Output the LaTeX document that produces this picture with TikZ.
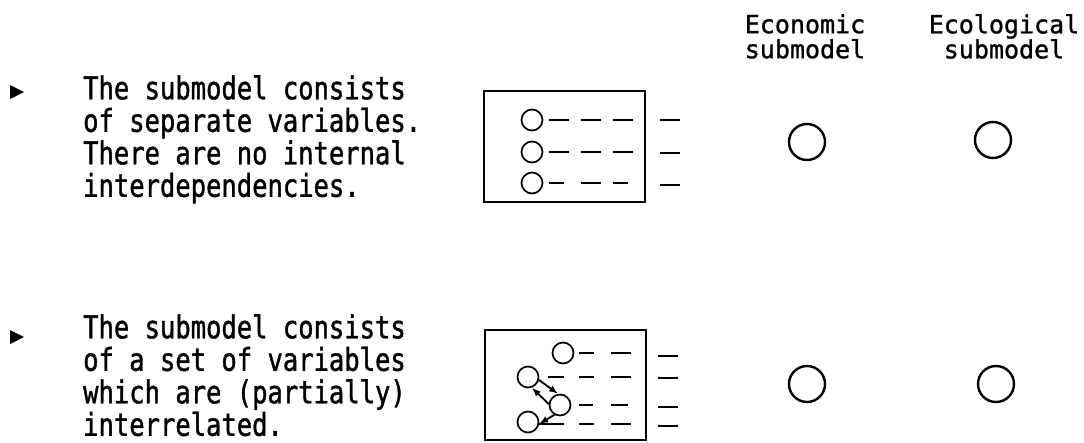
\documentclass[tikz,border=0pt]{standalone}
\usepackage{fontspec}
\newfontfamily\typefont[FakeStretch=0.81,FakeBold=1.2]{DejaVu Sans Mono}
\newfontfamily\headfont[FakeBold=1.2]{DejaVu Sans Mono}
\usetikzlibrary{arrows.meta}

\begin{document}
\begin{tikzpicture}[x=1pt,y=-1pt]
  \tikzset{
    desc/.style={anchor=north west,inner sep=0pt,align=left,
      font=\typefont\fontsize{31.5}{32.5}\selectfont},
    colhead/.style={anchor=north,inner sep=0pt,align=center,
      font=\headfont\fontsize{25}{25}\selectfont},
    var/.style={draw,circle,line width=1.7pt,minimum size=21pt,inner sep=0pt},
    share/.style={draw,circle,line width=2.4pt,minimum size=36pt,inner sep=0pt},
    frame/.style={line width=2.5pt},
    trail/.style={line width=2.2pt,shorten <=6pt,dash pattern=on 20pt off 12pt},
    tick/.style={line width=2.2pt},
    link/.style={-{Latex[length=9pt,width=7pt]},line width=1.8pt}
  }
  \useasboundingbox (0,0) rectangle (1084,442);

  \node[colhead] (econhead) at (805,14) {Economic\\submodel};
  \node[colhead] (eclhead) at (1004,14) {Ecological\\submodel};

  \fill (10,85) -- (24,92) -- (10,99) -- cycle;
  \node[desc] (sepvars) at (83,75)
    {The submodel consists\\of separate variables.\\There are no internal\\interdependencies.};

  \draw[frame] (484,91) rectangle (645,202);
  \node[var] (a1) at (532,120) {};
  \node[var] (a2) at (532,152) {};
  \node[var] (a3) at (532,183) {};
  \draw[trail] (a1.east) -- ++(90,0);
  \draw[trail] (a2.east) -- ++(90,0);
  \draw[trail,dash pattern=on 15pt off 17pt on 20pt off 12pt] (a3.east) -- ++(90,0);
  \draw[tick] (660,120) -- (680,120);
  \draw[tick] (660,153) -- (680,153);
  \draw[tick] (660,185) -- (680,185);

  \node[share] (econ1) at (807,142) {};
  \node[share] (ecol1) at (993,140) {};

  \fill (10,330) -- (24,337) -- (10,344) -- cycle;
  \node[desc] (relvars) at (83,314)
    {The submodel consists\\of a set of variables\\which are (partially)\\interrelated.};

  \draw[frame] (485,330) rectangle (646,440);
  \node[var] (b1) at (563,353) {};
  \node[var] (b2) at (528,377) {};
  \node[var] (b3) at (560,405) {};
  \node[var] (b4) at (528,422) {};
  \draw[trail,shorten <=5pt,dash pattern=on 15pt off 17pt on 20pt] (b1.east) -- ++(57,0);
  \draw[trail,shorten <=9pt,dash pattern=on 16pt off 15pt on 15pt off 17pt on 20pt] (b2.east) -- ++(92,0);
  \draw[trail,shorten <=8pt,dash pattern=on 14pt off 18pt on 17pt] (b3.east) -- ++(57,0);
  \draw[trail,shorten <=0pt,dash pattern=on 25pt off 15pt on 15pt off 17pt on 20pt] (b4.-10) -- ++(92,0);
  \draw[link] (b2.-15) -- (b3.100);
  \draw[link] (b3.175) -- (b2.-70);
  \draw[link] (b3.-120) -- (b4.-10);
  \draw[tick] (658,356) -- (678,356);
  \draw[tick] (658,378) -- (678,378);
  \draw[tick] (658,407) -- (678,407);
  \draw[tick] (658,426) -- (678,426);

  \node[share] (econ2) at (807,384) {};
  \node[share] (ecol2) at (996,384) {};
\end{tikzpicture}
\end{document}
